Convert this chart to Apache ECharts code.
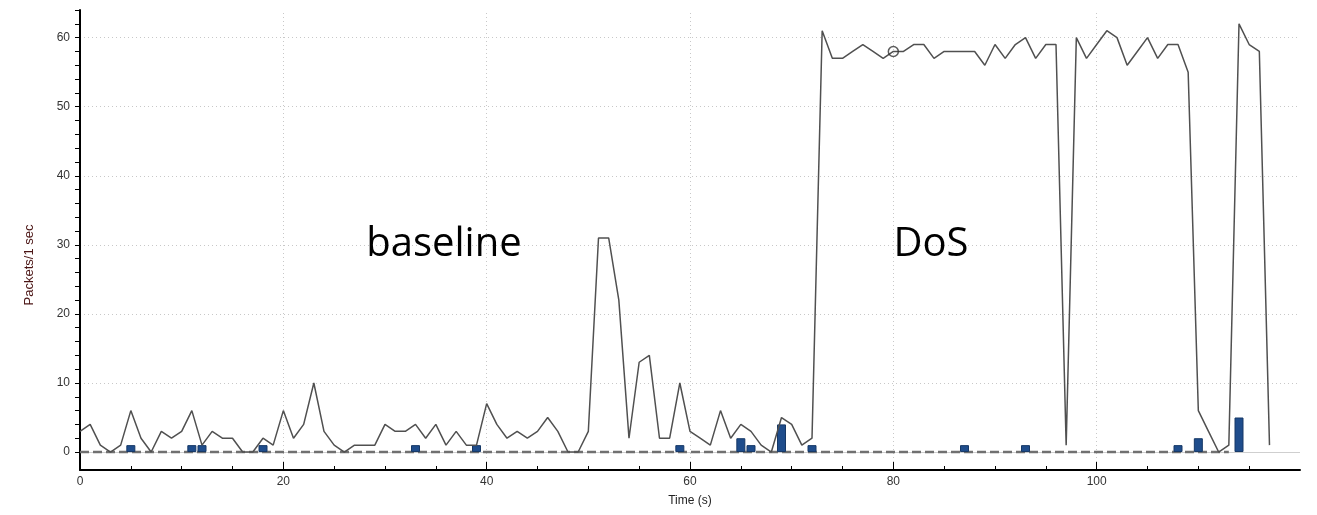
<!DOCTYPE html>
<html>
<head>
<meta charset="utf-8">
<script src="https://cdn.jsdelivr.net/npm/echarts@6/dist/echarts.min.js"></script>
<style>
  html, body { margin: 0; padding: 0; background: #fff; }
  #chart { width: 1317px; height: 515px; }
</style>
</head>
<body>
<div id="chart"></div>
<script>
// packets per second, one value per second from t = 0
const packets = [
  3, 4, 1, 0, 1, 6, 2, 0, 3, 2,
  3, 6, 1, 3, 2, 2, 0, 0, 2, 1,
  6, 2, 4, 10, 3, 1, 0, 1, 1, 1,
  4, 3, 3, 4, 2, 4, 1, 3, 1, 1,
  7, 4, 2, 3, 2, 3, 5, 3, 0, 0,
  3, 31, 31, 22, 2, 13, 14, 2, 2, 10,
  3, 2, 1, 6, 2, 4, 3, 1, 0, 5,
  4, 1, 2, 61, 57, 57, 58, 59, 58, 57,
  58, 58, 59, 59, 57, 58, 58, 58, 58, 56,
  59, 57, 59, 60, 57, 59, 59, 1, 60, 57,
  59, 61, 60, 56, 58, 60, 57, 59, 59, 55,
  6, 3, 0, 1, 62, 59, 58, 1
]
// second graph (bars)
const barTimes = [5, 11, 12, 18, 33, 39, 59, 65, 66, 69, 72, 87, 93, 108, 110, 114]
const barValues = [1, 1, 1, 1, 1, 1, 1, 2, 1, 4, 1, 1, 1, 1, 2, 5]
// third graph, all zero (dashed)
const zeroEnd = 113

const xTicks = [0, 20, 40, 60, 80, 100]
const yTicks = [0, 10, 20, 30, 40, 50, 60]
const yMinorTicks = [0, 2, 4, 6, 8, 10, 12, 14, 16, 18, 20, 22, 24, 26, 28, 30, 32,
  34, 36, 38, 40, 42, 44, 46, 48, 50, 52, 54, 56, 58, 60, 62, 64]

const markerPoint = [80, 58]
const notes = [
  { name: 'baseline', coord: [35.8, 30] },
  { name: 'DoS', coord: [83.7, 30] }
]

const lineData = packets.map((v, i) => [i, v])
const barData = barTimes.map((t, i) => [t, barValues[i]])
const zeroData = []
for (let t = 0; t <= zeroEnd; t++) zeroData.push([t, 0])

const gridStyle = { color: '#c8c8c8', width: 1, type: [1, 3] }
const gridLines = []
xTicks.slice(1).forEach(v => gridLines.push({ xAxis: v, lineStyle: gridStyle }))
yTicks.slice(1).forEach(v => gridLines.push({ yAxis: v, lineStyle: gridStyle }))
gridLines.push({ yAxis: 0, lineStyle: { color: '#cfcfcf', width: 1, type: 'solid' } })

const labelFont = { fontFamily: 'Liberation Sans', fontSize: 12, color: '#333' }

var myChart = echarts.init(document.getElementById('chart'))
var option = {
  animation: false,
  grid: { left: 80, right: 17, top: 10, bottom: 45 },
  xAxis: {
    type: 'value',
    min: 0,
    max: 120,
    interval: 20,
    name: 'Time (s)',
    nameLocation: 'middle',
    nameGap: 25,
    nameTextStyle: { fontFamily: 'Liberation Sans', fontSize: 12, color: '#222' },
    axisLine: { show: true, onZero: false, lineStyle: { color: '#000', width: 2 } },
    axisTick: { show: true, inside: true, length: 8, customValues: xTicks, lineStyle: { color: '#000', width: 1 } },
    minorTick: { show: true, splitNumber: 4, length: 4, lineStyle: { color: '#000', width: 1 } },
    axisLabel: Object.assign({ margin: 6, customValues: xTicks }, labelFont),
    splitLine: { show: false }
  },
  yAxis: {
    type: 'value',
    min: -2.6,
    max: 64,
    name: 'Packets/1 sec',
    nameLocation: 'middle',
    nameGap: 44,
    nameTextStyle: { fontFamily: 'Liberation Sans', fontSize: 13, color: '#4a1414', padding: [0, 0, 0, -50] },
    axisLine: { show: true, onZero: false, lineStyle: { color: '#000', width: 2 } },
    axisTick: { show: true, inside: false, length: 5, customValues: yMinorTicks, lineStyle: { color: '#000', width: 1 } },
    axisLabel: Object.assign({ margin: 10, customValues: yTicks }, labelFont),
    splitLine: { show: false }
  },
  series: [
    {
      type: 'line',
      data: zeroData,
      symbol: 'none',
      lineStyle: { color: '#707070', width: 2.5, type: [9, 4] },
      markLine: {
        silent: true,
        symbol: 'none',
        label: { show: false },
        z: 0,
        data: gridLines
      },
      z: 1
    },
    {
      type: 'bar',
      data: barData,
      barWidth: 9,
      itemStyle: { color: '#1f4d8c', borderColor: '#163866', borderWidth: 1 },
      z: 2
    },
    {
      type: 'line',
      data: lineData,
      symbol: 'none',
      lineStyle: { color: '#505050', width: 1.5 },
      markPoint: {
        symbol: 'circle',
        symbolSize: 0,
        label: {
          show: true,
          position: 'inside',
          formatter: '{b}',
          fontFamily: 'Open Sans',
          fontSize: 40,
          color: '#000'
        },
        data: notes
      },
      z: 3
    },
    {
      type: 'scatter',
      data: [markerPoint],
      symbol: 'circle',
      symbolSize: 10,
      itemStyle: { color: 'rgba(0,0,0,0)', borderColor: '#333', borderWidth: 1.5 },
      z: 4
    }
  ]
}
myChart.setOption(option)
</script>
</body>
</html>
